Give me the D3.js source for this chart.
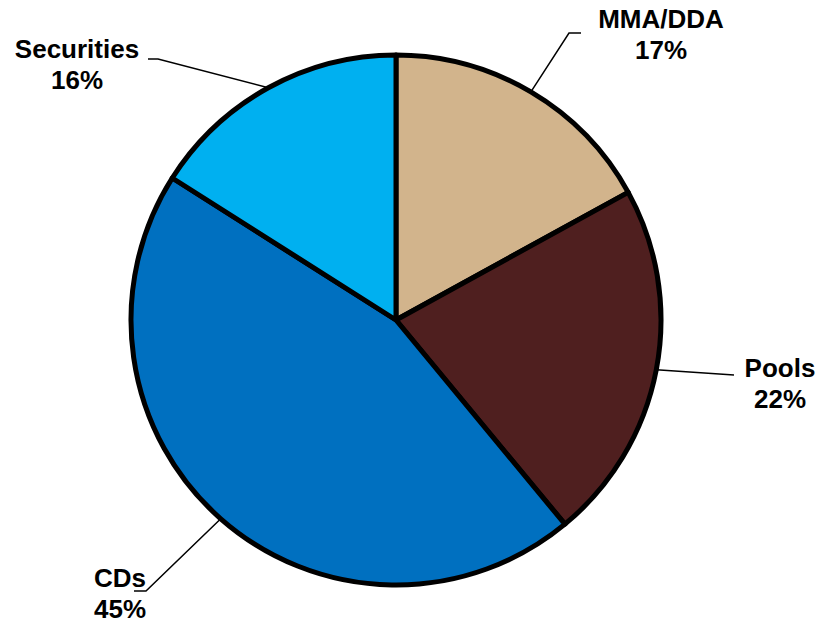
<!DOCTYPE html>
<html>
<head>
<meta charset="utf-8">
<script src="https://cdn.jsdelivr.net/npm/d3@7"></script>
<style>
  html, body { margin: 0; padding: 0; background: #fff; }
  svg { display: block; }
  text { font-family: "Liberation Sans", Arial, sans-serif; font-weight: bold; font-size: 26px; fill: #000; }
</style>
</head>
<body>
<svg id="chart" width="837" height="623"></svg>
<script>
const categories = ["MMA/DDA", "Pools", "CDs", "Securities"];
const values = [17, 22, 45, 16];
const colors = ["#D2B48C", "#4F1F1F", "#0070C0", "#00B0F0"];

// label layout: elbow point, end of horizontal segment, text anchor position
const labelLayout = [
  { elbow: [569, 33], end: [581, 33], tx: 661, ty: 28 },
  { elbow: [734, 375], end: [734, 375], tx: 780, ty: 377 },
  { elbow: [146, 591], end: [134, 591], tx: 120, ty: 587 },
  { elbow: [158, 59], end: [148, 59], tx: 77, ty: 58 }
];

const svg = d3.select("#chart");
const cx = 396, cy = 320, r = 265;
const g = svg.append("g").attr("transform", `translate(${cx},${cy})`);

const pie = d3.pie().sort(null).value(d => d.value);
const data = categories.map((c, i) => ({ name: c, value: values[i], color: colors[i] }));
const arcs = pie(data);
const arc = d3.arc().innerRadius(0).outerRadius(r);

g.selectAll("path.slice")
  .data(arcs)
  .enter().append("path")
  .attr("class", "slice")
  .attr("d", arc)
  .attr("fill", d => d.data.color)
  .attr("stroke", "#000")
  .attr("stroke-width", 5)
  .attr("stroke-linejoin", "round");

// leader lines
arcs.forEach((d, i) => {
  const a = (d.startAngle + d.endAngle) / 2;
  const sx = cx + r * Math.sin(a), sy = cy - r * Math.cos(a);
  const L = labelLayout[i];
  svg.append("polyline")
    .attr("points", [[sx, sy], L.elbow, L.end].map(p => p.join(",")).join(" "))
    .attr("fill", "none")
    .attr("stroke", "#000")
    .attr("stroke-width", 1.5);
  const t = svg.append("text")
    .attr("x", L.tx).attr("y", L.ty)
    .attr("text-anchor", "middle");
  t.append("tspan").attr("x", L.tx).attr("dy", 0).text(d.data.name);
  t.append("tspan").attr("x", L.tx).attr("dy", 31).text(d3.format(".0f")(d.data.value) + "%");
});
</script>
</body>
</html>
